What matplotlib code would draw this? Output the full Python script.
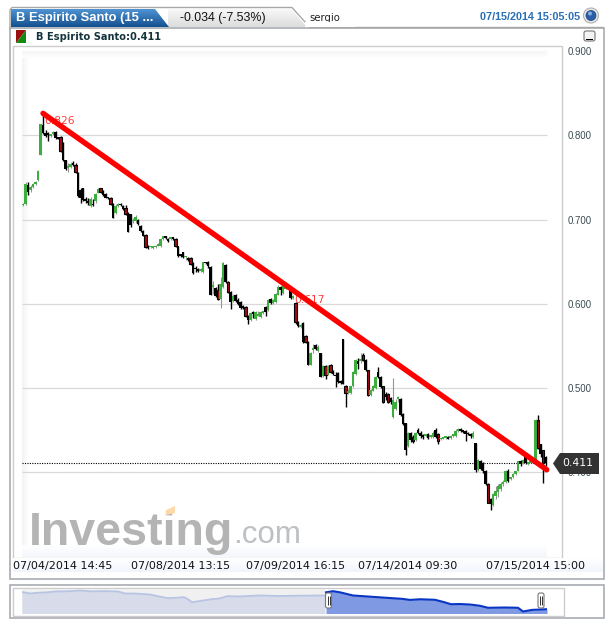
import numpy as np
import matplotlib
matplotlib.use("Agg")
import matplotlib.pyplot as plt
from matplotlib.patches import Polygon, Rectangle, FancyBboxPatch, Circle

opens = [
    .717,.719,.741,.735,.739,.742,.747,.777,.812,.803,
    .803,.799,.801,.804,.797,.798,.785,.771,.761,.762,
    .766,.765,.755,.735,.737,.724,.722,.716,.718,.722,
    .732,.737,.733,.730,.726,.725,.719,.708,.716,.719,
    .716,.714,.708,.706,.698,.698,.700,.692,.686,.682,
    .669,.667,.666,.667,.669,.668,.677,.680,.677,.677,
    .678,.677,.668,.658,.661,.655,.653,.654,.648,.642,
    .641,.639,.638,.649,.649,.644,.620,.619,.616,.606,
    .620,.646,.626,.614,.603,.611,.605,.602,.597,.596,
    .586,.581,.589,.582,.586,.584,.589,.596,.593,.606,
    .601,.602,.611,.620,.613,.618,.621,.616,.607,.601,
    .578,.573,.577,.562,.555,.527,.545,.551,.544,.541,
    .514,.526,.516,.527,.519,.515,.518,.507,.558,.503,
    .494,.494,.502,.517,.532,.532,.539,.533,.521,.492,
    .497,.500,.519,.513,.502,.493,.493,.488,.466,.475,
    .487,.487,.469,.458,.431,.447,.442,.438,.450,.447,
    .443,.443,.446,.442,.442,.450,.446,.439,.440,.441,
    .441,.441,.443,.443,.449,.451,.449,.449,.447,.445,
    .442,.435,.403,.414,.411,.402,.386,.368,.361,.372,
    .377,.380,.386,.388,.402,.392,.394,.398,.402,.413,
    .411,.420,.410,.411,.413,.412,.462,.433,.426,.418,
]
closes = [
    .719,.742,.733,.739,.742,.745,.758,.813,.803,.799,
    .800,.801,.804,.797,.796,.781,.771,.760,.762,.766,
    .765,.756,.728,.725,.723,.722,.720,.724,.717,.730,
    .736,.733,.729,.726,.725,.718,.702,.716,.718,.717,
    .712,.706,.685,.693,.700,.703,.695,.686,.681,.667,
    .666,.668,.667,.669,.671,.677,.680,.678,.675,.678,
    .677,.668,.657,.657,.655,.656,.652,.647,.636,.641,
    .639,.640,.649,.648,.645,.611,.621,.609,.606,.623,
    .648,.626,.614,.602,.609,.603,.600,.595,.595,.585,
    .581,.589,.588,.590,.587,.590,.590,.590,.605,.601,
    .604,.612,.620,.616,.622,.622,.619,.607,.609,.578,
    .574,.575,.555,.555,.527,.542,.547,.546,.549,.513,
    .526,.516,.526,.519,.517,.514,.507,.506,.505,.494,
    .496,.502,.519,.533,.528,.534,.533,.521,.492,.498,
    .503,.513,.513,.501,.483,.489,.483,.484,.486,.484,
    .489,.468,.457,.426,.447,.438,.437,.447,.447,.443,
    .442,.445,.441,.443,.447,.442,.437,.440,.441,.442,
    .440,.443,.445,.449,.450,.449,.448,.445,.445,.443,
    .447,.403,.415,.404,.401,.386,.364,.362,.374,.378,
    .384,.386,.388,.402,.390,.393,.398,.401,.413,.410,
    .415,.411,.411,.413,.412,.462,.429,.422,.411,.411,
]
highs = [
    .720,.744,.744,.741,.743,.746,.759,.813,.826,.806,
    .804,.802,.805,.805,.798,.799,.792,.771,.767,.768,
    .769,.767,.756,.737,.738,.727,.725,.727,.724,.732,
    .738,.738,.735,.732,.727,.727,.720,.718,.720,.720,
    .717,.717,.709,.707,.702,.705,.701,.693,.687,.683,
    .670,.669,.668,.670,.672,.678,.681,.681,.678,.679,
    .679,.678,.669,.659,.662,.657,.656,.655,.649,.645,
    .643,.642,.650,.650,.651,.645,.627,.620,.623,.632,
    .649,.647,.627,.615,.612,.612,.607,.603,.599,.597,
    .587,.590,.591,.591,.591,.592,.592,.597,.606,.607,
    .606,.613,.622,.621,.624,.624,.622,.617,.611,.602,
    .579,.577,.578,.563,.556,.543,.552,.552,.551,.542,
    .527,.527,.527,.528,.522,.519,.519,.510,.558,.504,
    .499,.503,.520,.534,.536,.541,.541,.534,.522,.499,
    .504,.514,.525,.514,.503,.495,.494,.489,.512,.487,
    .491,.488,.470,.459,.448,.448,.444,.448,.453,.449,
    .445,.446,.447,.444,.449,.452,.447,.441,.442,.443,
    .443,.444,.446,.451,.452,.452,.450,.450,.448,.447,
    .449,.435,.416,.415,.412,.403,.387,.370,.375,.384,
    .386,.388,.391,.403,.404,.395,.399,.402,.414,.415,
    .416,.421,.412,.414,.414,.463,.468,.434,.427,.419,
]
lows = [
    .716,.717,.729,.733,.738,.741,.746,.776,.802,.798,
    .793,.798,.800,.796,.795,.780,.770,.759,.756,.761,
    .763,.755,.727,.720,.722,.720,.717,.715,.716,.720,
    .731,.732,.728,.725,.724,.717,.702,.707,.715,.716,
    .711,.705,.685,.691,.696,.696,.694,.685,.680,.666,
    .665,.666,.665,.666,.668,.667,.676,.677,.673,.676,
    .676,.667,.656,.656,.654,.652,.651,.646,.635,.638,
    .638,.638,.637,.647,.643,.610,.612,.608,.605,.595,
    .619,.625,.613,.594,.602,.602,.598,.594,.594,.584,
    .576,.580,.583,.581,.585,.583,.588,.586,.592,.600,
    .600,.601,.610,.611,.612,.617,.618,.606,.606,.576,
    .572,.571,.554,.554,.527,.527,.542,.545,.543,.513,
    .513,.511,.515,.518,.515,.501,.506,.505,.505,.477,
    .493,.493,.501,.516,.523,.530,.532,.520,.491,.491,
    .496,.499,.512,.500,.482,.486,.482,.481,.465,.474,
    .483,.467,.456,.421,.430,.436,.435,.437,.446,.441,
    .440,.442,.440,.441,.441,.441,.433,.438,.439,.440,
    .439,.440,.442,.442,.448,.448,.447,.437,.444,.441,
    .441,.400,.402,.403,.399,.385,.363,.355,.360,.368,
    .371,.378,.384,.387,.389,.391,.393,.397,.401,.408,
    .410,.410,.409,.411,.411,.410,.428,.418,.387,.408,
]
# bars that show a red body, the other falling ones read as plain black
red_bars = [15, 21, 31, 35, 41, 49, 61, 67, 78, 82, 89, 109, 113, 121, 123,
            129, 136, 138, 144, 146, 156, 166, 186, 206, 208]

y_ticks = [0.4, 0.5, 0.6, 0.7, 0.8, 0.9]
x_ticks = [16, 63, 109, 154, 205]
x_labels = ["07/04/2014 14:45", "07/08/2014 13:15", "07/09/2014 16:15",
            "07/14/2014 09:30", "07/15/2014 15:00"]

trend_x = [8, 209.5]
trend_y = [0.826, 0.403]
last_price = 0.411

nav_old_x = [22, 26, 30, 38, 47, 55, 68, 80, 92, 105, 118, 125, 135, 150, 160, 168, 176, 184, 188, 192, 200, 212, 220, 227, 240, 259, 280, 300, 325]
nav_old_y = [.808, .790, .773, .790, .800, .819, .825, .842, .822, .828, .819, .773, .772, .750, .700, .665, .675, .688, .640, .573, .600, .642, .660, .711, .705, .727, .715, .722, .727]
nav_new_x = [326, 333, 340, 353, 370, 392, 402, 410, 420, 435, 443, 451, 460, 470, 480, 488, 505, 518, 523, 532, 547]
nav_new_y = [.800, .826, .800, .727, .700, .665, .650, .625, .640, .628, .580, .526, .530, .519, .490, .444, .450, .444, .358, .395, .411]

W, H = 613, 627
plt.rcParams["font.family"] = ["Liberation Sans", "DejaVu Sans"]
fig = plt.figure(figsize=(W / 100, H / 100), dpi=100, facecolor="white")


def px_axes(left, top, right, bottom, z):
    return fig.add_axes([left / W, 1 - bottom / H, (right - left) / W, (bottom - top) / H], zorder=z)


# page furniture behind the chart, in pixels
bg = px_axes(0, 0, W, H, 0)
bg.set_xlim(0, W)
bg.set_ylim(H, 0)
bg.axis("off")


def gradient(ax, x0, x1, y0, y1, c0, c1, vertical=True, clip=None):
    c0 = np.array(matplotlib.colors.to_rgb(c0))
    c1 = np.array(matplotlib.colors.to_rgb(c1))
    t = np.linspace(0, 1, 32)
    img = c0 + (c1 - c0) * t[:, None]
    img = img[:, None, :] if vertical else img[None, :, :]
    im = ax.imshow(img, extent=[x0, x1, y1, y0], aspect="auto", interpolation="bilinear", zorder=1)
    if clip is not None:
        im.set_clip_path(clip)
    ax.set_xlim(0, W)
    ax.set_ylim(H, 0)


# tabs
outline = [(10, 27.5), (10, 10), (12, 7.5), (292, 7.5), (310, 27.5), (603, 27.5)]
tab2 = Polygon([(168, 9), (291, 9), (307, 27), (168, 27)], closed=True, transform=bg.transData, fc="none", ec="none")
bg.add_patch(tab2)
gradient(bg, 160, 310, 9, 27, "#f8f8f8", "#dcdcdc", clip=tab2)
tab1 = Polygon([(11, 27), (11, 9), (155, 9), (169, 27)], closed=True, transform=bg.transData, fc="none", ec="none")
bg.add_patch(tab1)
gradient(bg, 11, 170, 9, 27, "#4f93d3", "#14508f", clip=tab1)
bg.plot(*zip(*outline), color="#a8a8a8", lw=1, zorder=2)
bg.add_patch(Rectangle((9.5, 27.5), 594, 551, fc="white", ec="#a8acb0", lw=1.2, zorder=0.5))
bg.add_patch(Rectangle((12.5, 45.5), 549, 512, fc="white", ec="#cccccc", lw=1, zorder=1))

# soft edges of the plot area
gradient(bg, 22, 29, 51, 557, "#f3f3f3", "#ffffff", vertical=False)
gradient(bg, 22, 547, 51, 58, "#f5f5f5", "#ffffff")
gradient(bg, 22, 547, 545, 557, "#ffffff", "#f4f6fb")
gradient(bg, 13, 603, 558, 572, "#ffffff", "#f1f5fd")

bg.text(16, 18, "B Espirito Santo (15 ...", color="white", fontsize=9.4, fontweight="bold", va="center", zorder=3)
bg.text(180, 17.5, "-0.034 (-7.53%)", color="#111111", fontsize=8.9, va="center", zorder=3)
bg.text(309, 18, "sergio", color="#222222", fontsize=7.3, family="DejaVu Sans", va="center", zorder=3)
bg.add_patch(Rectangle((305, 22), 50, 5, fc="white", ec="none", zorder=3.5))
bg.text(480, 17.5, "07/15/2014 15:05:05", color="#2a6fb5", fontsize=7.8, fontweight="bold", va="center", zorder=3)
bg.add_patch(Circle((591, 15.5), 7.5, fc="#e8e8e8", ec="#b0b0b0", lw=0.8, zorder=3))
bg.add_patch(Circle((591, 15.5), 5, fc="#2a5ea8", ec="#17407c", lw=0.5, zorder=4))
bg.add_patch(Circle((590, 13.5), 2, fc="#86aede", ec="none", zorder=5))

# legend chip and series name
bg.add_patch(Polygon([(16, 30), (26, 30), (16, 43)], closed=True, fc="#9c1010", ec="none", zorder=3))
bg.add_patch(Polygon([(26, 30), (26, 43), (16, 43)], closed=True, fc="#108a10", ec="none", zorder=3))
bg.text(36, 36.5, "B Espirito Santo:0.411", color="#14343c", fontsize=7.15, fontweight="bold",
        family="DejaVu Sans", va="center", zorder=3)

# minimise button
bg.add_patch(FancyBboxPatch((584, 31), 11, 10, boxstyle="round,pad=0,rounding_size=2", fc="#f4f4f4", ec="#777777", lw=0.8, zorder=3))
bg.add_patch(Rectangle((586, 38.5), 7, 1.8, fc="black", ec="none", zorder=4))

# watermark
bg.text(29, 545, "Investing", color="#b4b4b4", fontsize=33.5, fontweight="bold", va="baseline", zorder=2)
bg.text(233, 543, ".com", color="#bdc0c4", fontsize=22.5, va="baseline", zorder=2)
bg.add_patch(Polygon([(166, 510), (175, 506), (175, 513), (166, 515)], closed=True, fc="#fbd9a8", ec="none", zorder=2.5))

# main chart
ax = px_axes(12.5, 45.5, 561.5, 557, 1)
ax.patch.set_alpha(0)
for s in ax.spines.values():
    s.set_visible(False)
ax.set_xlim((12.5 - 23) / 2.5, (561.5 - 23) / 2.5)
ax.set_ylim(0.9 - (557 - 51) / 842.6, 0.9 + (51 - 45.5) / 842.6)

ax.hlines([t for t in y_ticks if t < 0.9], -0.4, 209.6, color="#d9d9d9", lw=0.9, zorder=1)
ax.hlines(last_price, -0.4, 209.6, color="black", lw=0.8, linestyles=(0, (1, 1.2)), zorder=2)

for i, (o, h, l, c) in enumerate(zip(opens, highs, lows, closes)):
    body = max(abs(c - o), 0.002)
    if c >= o:
        ax.vlines(i, l, h, color="#8f9a8f", lw=0.8, zorder=3)
        ax.bar(i, body, bottom=o, width=0.85, color="#3dae3d", lw=0, zorder=4)
    else:
        ax.vlines(i, l, h, color="black", lw=1.0, zorder=3)
        if i in red_bars:
            ax.bar(i, body, bottom=c, width=1.05, color="#a80a14", edgecolor="black", lw=0.8, zorder=4)
        else:
            ax.bar(i, body, bottom=c, width=0.85, color="black", lw=0, zorder=4)

ax.text(8.5, 0.826 - 0.0095, "0.826", color="#ff3c3c", fontsize=7.7, family="DejaVu Sans", va="center", zorder=5)
ax.text(108.5, 0.617 - 0.0125, "0.617", color="#ff3c3c", fontsize=7.7, family="DejaVu Sans", va="center", zorder=5)
ax.plot(trend_x, trend_y, color="#ff0000", lw=3.9, solid_capstyle="round", zorder=6)

ax.yaxis.tick_right()
ax.set_yticks(y_ticks)
ax.set_yticklabels(["%.3f" % t for t in y_ticks])
ax.set_xticks(x_ticks)
ax.set_xticklabels(x_labels, family="DejaVu Sans")
ax.tick_params(axis="y", length=0, pad=4.6, labelsize=6.9, labelcolor="#3a4c52")
ax.tick_params(axis="x", length=0, pad=3, labelsize=8, labelcolor="#111111")

# overview strip
bg.add_patch(Rectangle((9.5, 585), 594, 33, fc="white", ec="#a8acb0", lw=1.2, zorder=0.5))
bg.add_patch(Rectangle((12.5, 588), 551, 28, fc="white", ec="#cccccc", lw=1, zorder=1))
bg.add_patch(Rectangle((22, 588.5), 303, 25, fc="#f0f0f0", ec="none", zorder=1.2))

nav = px_axes(22, 588, 547, 613.5, 1)
nav.patch.set_alpha(0)
nav.axis("off")
nav.set_xlim(22, 547)
nav.set_ylim(0.312, 0.312 + 25.5 / 43.4)
nav.fill_between(nav_old_x, 0.312, nav_old_y, color="#d8dcea", lw=0)
nav.plot(nav_old_x, nav_old_y, color="#b8c4e4", lw=1.3)
nav.fill_between(nav_new_x, 0.312, nav_new_y, color="#7f99e2", lw=0)
nav.plot(nav_new_x, nav_new_y, color="#0a35c4", lw=1.5)

# things above the chart
top = px_axes(0, 0, W, H, 3)
top.set_xlim(0, W)
top.set_ylim(H, 0)
top.axis("off")
top.add_patch(Polygon([(553, 463.5), (560, 453), (599, 453), (599, 474), (560, 474)], closed=True, fc="#333333", ec="none"))
top.text(578, 463.5, "0.411", color="white", fontsize=7.8, family="DejaVu Sans", ha="center", va="center")
for hx in (328.5, 541):
    top.add_patch(FancyBboxPatch((hx - 3, 593), 6, 15, boxstyle="round,pad=0,rounding_size=2", fc="white", ec="#777777", lw=0.8))
    top.vlines([hx - 1, hx + 1], 596, 605, color="#333333", lw=0.7)

fig.savefig("out.png", dpi=100)
